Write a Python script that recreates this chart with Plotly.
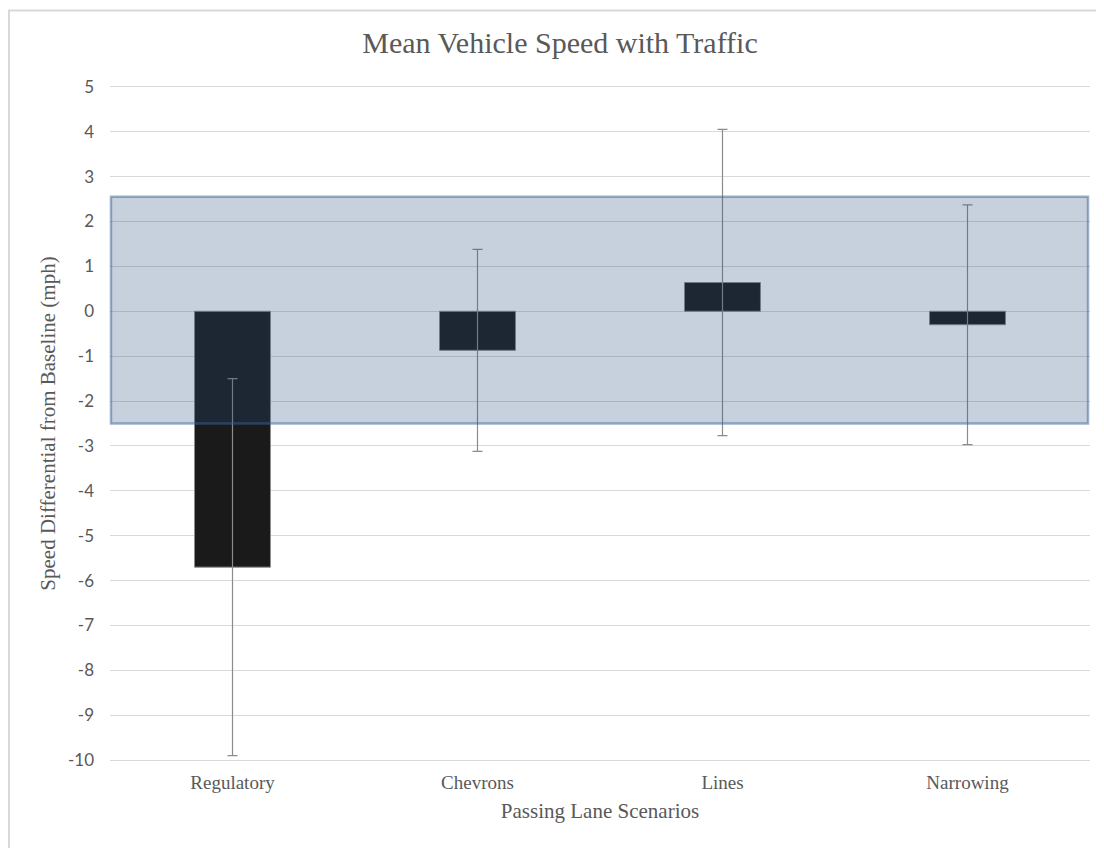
import plotly.graph_objects as go

categories = ["Regulatory", "Chevrons", "Lines", "Narrowing"]
mean_diff = [-5.70, -0.87, 0.64, -0.30]
error_ci = [4.20, 2.25, 3.41, 2.67]
band_low = -2.50
band_high = 2.55
y_ticks = list(range(-10, 6))
y_tick_text = [str(v) for v in y_ticks]

serif = "Liberation Serif, Times New Roman, serif"
sans = "Lato, Open Sans, sans-serif"
grey_text = "#595959"

# page body has an 8px margin; figure coords are offset accordingly
L, R, T, B = 102, 22, 77, 94
PW = 1104 - L - R
PH = 848 - T - B

fig = go.Figure()
fig.add_trace(go.Bar(
    x=categories,
    y=mean_diff,
    marker=dict(color="#1a1a1a", line=dict(color="#8c8c8c", width=1)),
    error_y=dict(type="data", array=error_ci, visible=True,
                 color="#8c8c8c", thickness=1.2, width=5),
    width=0.31,
    showlegend=False,
))

# shaded band (semi-transparent, above bars)
fig.add_shape(type="rect", xref="paper", yref="y",
              x0=0.001, x1=0.998, y0=band_low, y1=band_high,
              fillcolor="rgba(40,78,128,0.26)",
              line=dict(color="rgba(60,100,150,0.5)", width=2.5),
              layer="above")

# outer chart border (top & left visible)
fig.add_shape(type="rect", xref="paper", yref="paper",
              x0=(1 - L) / PW, x1=1.2, y0=-0.3, y1=(PH + T - 2.5) / PH,
              line=dict(color="#d9d9d9", width=2),
              fillcolor="rgba(0,0,0,0)", layer="below")

fig.update_layout(
    width=1104, height=848,
    margin=dict(l=L, r=R, t=T, b=B),
    paper_bgcolor="white", plot_bgcolor="white",
    title=dict(text="Mean Vehicle Speed with Traffic", x=0.5,
               xref="container", xanchor="center",
               y=1 - 34 / 848, yanchor="middle",
               font=dict(family=serif, size=30, color=grey_text)),
    bargap=0.69,
    xaxis=dict(
        title=dict(text="Passing Lane Scenarios", standoff=11,
                   font=dict(family=serif, size=21, color=grey_text)),
        tickfont=dict(family=serif, size=19, color=grey_text),
        showgrid=False, zeroline=False, showline=False, ticks="",
        ticklabelstandoff=7,
    ),
    yaxis=dict(
        title=dict(text="Speed Differential from Baseline (mph)", standoff=6,
                   font=dict(family=serif, size=21, color=grey_text)),
        range=[-10.04, 5.04], tickvals=y_ticks, ticktext=y_tick_text,
        tickfont=dict(family=sans, size=17, color=grey_text),
        showgrid=True, gridcolor="#d9d9d9", gridwidth=1,
        zeroline=False, showline=False, ticks="",
        ticklabelstandoff=15,
    ),
)

fig.write_html("out.html")
